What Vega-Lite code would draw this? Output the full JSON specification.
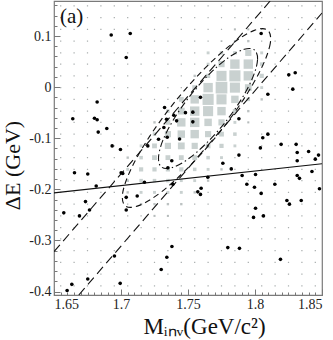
{
"$schema": "https://vega.github.io/schema/vega-lite/v6.json",
"width": 268, "height": 294,
"autosize": {"type": "none"},
"padding": {"left": 54, "top": 1, "right": 11, "bottom": 45},
"background": "white",
"config": {
  "view": {"stroke": "#7a7a7a", "strokeWidth": 1.2},
  "font": "'Liberation Serif', 'Times New Roman', Times, serif",
  "axis": {"labelFont": "'Liberation Serif', 'Times New Roman', Times, serif", "titleFont": "'Liberation Serif', 'Times New Roman', Times, serif", "labelFontSize": 14, "labelColor": "#222", "titleColor": "#111", "titleFontWeight": "normal", "grid": false, "domain": false, "tickColor": "#777"}
},
"datasets": {
"grid": [
{"m":1.655,"d":-0.389,"n":0},{"m":1.655,"d":-0.366,"n":0},{"m":1.655,"d":-0.343,"n":0},{"m":1.655,"d":-0.32,"n":0},{"m":1.655,"d":-0.297,"n":0},{"m":1.655,"d":-0.275,"n":0},{"m":1.655,"d":-0.252,"n":0},{"m":1.655,"d":-0.229,"n":0},{"m":1.655,"d":-0.206,"n":0},{"m":1.655,"d":-0.183,"n":0},{"m":1.655,"d":-0.161,"n":0},{"m":1.655,"d":-0.138,"n":0},{"m":1.655,"d":-0.115,"n":0},{"m":1.655,"d":-0.092,"n":0},{"m":1.655,"d":-0.069,"n":0},{"m":1.655,"d":-0.047,"n":0},{"m":1.655,"d":-0.024,"n":0},{"m":1.655,"d":-0.001,"n":0},{"m":1.655,"d":0.022,"n":0},{"m":1.655,"d":0.045,"n":0},{"m":1.655,"d":0.067,"n":0},{"m":1.655,"d":0.09,"n":0},{"m":1.655,"d":0.113,"n":0},{"m":1.655,"d":0.136,"n":0},{"m":1.655,"d":0.159,"n":0},
{"m":1.665,"d":-0.389,"n":0},{"m":1.665,"d":-0.366,"n":0},{"m":1.665,"d":-0.343,"n":0},{"m":1.665,"d":-0.32,"n":0},{"m":1.665,"d":-0.297,"n":0},{"m":1.665,"d":-0.275,"n":0},{"m":1.665,"d":-0.252,"n":0},{"m":1.665,"d":-0.229,"n":0},{"m":1.665,"d":-0.206,"n":0},{"m":1.665,"d":-0.183,"n":0},{"m":1.665,"d":-0.161,"n":0},{"m":1.665,"d":-0.138,"n":0},{"m":1.665,"d":-0.115,"n":0},{"m":1.665,"d":-0.092,"n":0},{"m":1.665,"d":-0.069,"n":0},{"m":1.665,"d":-0.047,"n":0},{"m":1.665,"d":-0.024,"n":0},{"m":1.665,"d":-0.001,"n":0},{"m":1.665,"d":0.022,"n":0},{"m":1.665,"d":0.045,"n":0},{"m":1.665,"d":0.067,"n":0},{"m":1.665,"d":0.09,"n":0},{"m":1.665,"d":0.113,"n":0},{"m":1.665,"d":0.136,"n":0},{"m":1.665,"d":0.159,"n":0},
{"m":1.675,"d":-0.389,"n":0},{"m":1.675,"d":-0.366,"n":0},{"m":1.675,"d":-0.343,"n":0},{"m":1.675,"d":-0.32,"n":0},{"m":1.675,"d":-0.297,"n":0},{"m":1.675,"d":-0.275,"n":0},{"m":1.675,"d":-0.252,"n":0},{"m":1.675,"d":-0.229,"n":0},{"m":1.675,"d":-0.206,"n":0},{"m":1.675,"d":-0.183,"n":0},{"m":1.675,"d":-0.161,"n":0},{"m":1.675,"d":-0.138,"n":0},{"m":1.675,"d":-0.115,"n":0},{"m":1.675,"d":-0.092,"n":0},{"m":1.675,"d":-0.069,"n":0},{"m":1.675,"d":-0.047,"n":0},{"m":1.675,"d":-0.024,"n":0},{"m":1.675,"d":-0.001,"n":0},{"m":1.675,"d":0.022,"n":0},{"m":1.675,"d":0.045,"n":0},{"m":1.675,"d":0.067,"n":0},{"m":1.675,"d":0.09,"n":0},{"m":1.675,"d":0.113,"n":0},{"m":1.675,"d":0.136,"n":0},{"m":1.675,"d":0.159,"n":0},
{"m":1.685,"d":-0.389,"n":0},{"m":1.685,"d":-0.366,"n":0},{"m":1.685,"d":-0.343,"n":0},{"m":1.685,"d":-0.32,"n":0},{"m":1.685,"d":-0.297,"n":0},{"m":1.685,"d":-0.275,"n":0},{"m":1.685,"d":-0.252,"n":0},{"m":1.685,"d":-0.229,"n":0},{"m":1.685,"d":-0.206,"n":0},{"m":1.685,"d":-0.183,"n":0},{"m":1.685,"d":-0.161,"n":0},{"m":1.685,"d":-0.138,"n":0},{"m":1.685,"d":-0.115,"n":0},{"m":1.685,"d":-0.092,"n":0},{"m":1.685,"d":-0.069,"n":0},{"m":1.685,"d":-0.047,"n":0},{"m":1.685,"d":-0.024,"n":0},{"m":1.685,"d":-0.001,"n":0},{"m":1.685,"d":0.022,"n":0},{"m":1.685,"d":0.045,"n":0},{"m":1.685,"d":0.067,"n":0},{"m":1.685,"d":0.09,"n":0},{"m":1.685,"d":0.113,"n":0},{"m":1.685,"d":0.136,"n":0},{"m":1.685,"d":0.159,"n":0},
{"m":1.695,"d":-0.389,"n":0},{"m":1.695,"d":-0.366,"n":0},{"m":1.695,"d":-0.343,"n":0},{"m":1.695,"d":-0.32,"n":0},{"m":1.695,"d":-0.297,"n":0},{"m":1.695,"d":-0.275,"n":0},{"m":1.695,"d":-0.252,"n":0},{"m":1.695,"d":-0.229,"n":0},{"m":1.695,"d":-0.206,"n":0},{"m":1.695,"d":-0.183,"n":0},{"m":1.695,"d":-0.161,"n":0},{"m":1.695,"d":-0.138,"n":0},{"m":1.695,"d":-0.115,"n":0},{"m":1.695,"d":-0.092,"n":0},{"m":1.695,"d":-0.069,"n":0},{"m":1.695,"d":-0.047,"n":0},{"m":1.695,"d":-0.024,"n":0},{"m":1.695,"d":-0.001,"n":0},{"m":1.695,"d":0.022,"n":0},{"m":1.695,"d":0.045,"n":0},{"m":1.695,"d":0.067,"n":0},{"m":1.695,"d":0.09,"n":0},{"m":1.695,"d":0.113,"n":0},{"m":1.695,"d":0.136,"n":0},{"m":1.695,"d":0.159,"n":0},
{"m":1.705,"d":-0.389,"n":0},{"m":1.705,"d":-0.366,"n":0},{"m":1.705,"d":-0.343,"n":0},{"m":1.705,"d":-0.32,"n":0},{"m":1.705,"d":-0.297,"n":0},{"m":1.705,"d":-0.275,"n":0},{"m":1.705,"d":-0.252,"n":0},{"m":1.705,"d":-0.229,"n":0},{"m":1.705,"d":-0.206,"n":3},{"m":1.705,"d":-0.183,"n":4},{"m":1.705,"d":-0.161,"n":5},{"m":1.705,"d":-0.138,"n":3},{"m":1.705,"d":-0.115,"n":0},{"m":1.705,"d":-0.092,"n":0},{"m":1.705,"d":-0.069,"n":0},{"m":1.705,"d":-0.047,"n":0},{"m":1.705,"d":-0.024,"n":0},{"m":1.705,"d":-0.001,"n":0},{"m":1.705,"d":0.022,"n":0},{"m":1.705,"d":0.045,"n":0},{"m":1.705,"d":0.067,"n":0},{"m":1.705,"d":0.09,"n":0},{"m":1.705,"d":0.113,"n":0},{"m":1.705,"d":0.136,"n":0},{"m":1.705,"d":0.159,"n":0},
{"m":1.715,"d":-0.389,"n":0},{"m":1.715,"d":-0.366,"n":0},{"m":1.715,"d":-0.343,"n":0},{"m":1.715,"d":-0.32,"n":0},{"m":1.715,"d":-0.297,"n":0},{"m":1.715,"d":-0.275,"n":0},{"m":1.715,"d":-0.252,"n":0},{"m":1.715,"d":-0.229,"n":3},{"m":1.715,"d":-0.206,"n":5},{"m":1.715,"d":-0.183,"n":8},{"m":1.715,"d":-0.161,"n":12},{"m":1.715,"d":-0.138,"n":8},{"m":1.715,"d":-0.115,"n":5},{"m":1.715,"d":-0.092,"n":0},{"m":1.715,"d":-0.069,"n":0},{"m":1.715,"d":-0.047,"n":0},{"m":1.715,"d":-0.024,"n":0},{"m":1.715,"d":-0.001,"n":0},{"m":1.715,"d":0.022,"n":0},{"m":1.715,"d":0.045,"n":0},{"m":1.715,"d":0.067,"n":0},{"m":1.715,"d":0.09,"n":0},{"m":1.715,"d":0.113,"n":0},{"m":1.715,"d":0.136,"n":0},{"m":1.715,"d":0.159,"n":0},
{"m":1.725,"d":-0.389,"n":0},{"m":1.725,"d":-0.366,"n":0},{"m":1.725,"d":-0.343,"n":0},{"m":1.725,"d":-0.32,"n":0},{"m":1.725,"d":-0.297,"n":0},{"m":1.725,"d":-0.275,"n":0},{"m":1.725,"d":-0.252,"n":2},{"m":1.725,"d":-0.229,"n":3},{"m":1.725,"d":-0.206,"n":5},{"m":1.725,"d":-0.183,"n":8},{"m":1.725,"d":-0.161,"n":12},{"m":1.725,"d":-0.138,"n":16},{"m":1.725,"d":-0.115,"n":16},{"m":1.725,"d":-0.092,"n":8},{"m":1.725,"d":-0.069,"n":3},{"m":1.725,"d":-0.047,"n":0},{"m":1.725,"d":-0.024,"n":0},{"m":1.725,"d":-0.001,"n":0},{"m":1.725,"d":0.022,"n":0},{"m":1.725,"d":0.045,"n":0},{"m":1.725,"d":0.067,"n":0},{"m":1.725,"d":0.09,"n":0},{"m":1.725,"d":0.113,"n":0},{"m":1.725,"d":0.136,"n":0},{"m":1.725,"d":0.159,"n":0},
{"m":1.735,"d":-0.389,"n":0},{"m":1.735,"d":-0.366,"n":0},{"m":1.735,"d":-0.343,"n":0},{"m":1.735,"d":-0.32,"n":0},{"m":1.735,"d":-0.297,"n":0},{"m":1.735,"d":-0.275,"n":0},{"m":1.735,"d":-0.252,"n":2},{"m":1.735,"d":-0.229,"n":3},{"m":1.735,"d":-0.206,"n":5},{"m":1.735,"d":-0.183,"n":8},{"m":1.735,"d":-0.161,"n":12},{"m":1.735,"d":-0.138,"n":16},{"m":1.735,"d":-0.115,"n":27},{"m":1.735,"d":-0.092,"n":27},{"m":1.735,"d":-0.069,"n":16},{"m":1.735,"d":-0.047,"n":8},{"m":1.735,"d":-0.024,"n":0},{"m":1.735,"d":-0.001,"n":0},{"m":1.735,"d":0.022,"n":0},{"m":1.735,"d":0.045,"n":0},{"m":1.735,"d":0.067,"n":0},{"m":1.735,"d":0.09,"n":0},{"m":1.735,"d":0.113,"n":0},{"m":1.735,"d":0.136,"n":0},{"m":1.735,"d":0.159,"n":0},
{"m":1.745,"d":-0.389,"n":0},{"m":1.745,"d":-0.366,"n":0},{"m":1.745,"d":-0.343,"n":0},{"m":1.745,"d":-0.32,"n":0},{"m":1.745,"d":-0.297,"n":0},{"m":1.745,"d":-0.275,"n":0},{"m":1.745,"d":-0.252,"n":0},{"m":1.745,"d":-0.229,"n":3},{"m":1.745,"d":-0.206,"n":5},{"m":1.745,"d":-0.183,"n":5},{"m":1.745,"d":-0.161,"n":12},{"m":1.745,"d":-0.138,"n":16},{"m":1.745,"d":-0.115,"n":33},{"m":1.745,"d":-0.092,"n":40},{"m":1.745,"d":-0.069,"n":51},{"m":1.745,"d":-0.047,"n":33},{"m":1.745,"d":-0.024,"n":16},{"m":1.745,"d":-0.001,"n":0},{"m":1.745,"d":0.022,"n":0},{"m":1.745,"d":0.045,"n":0},{"m":1.745,"d":0.067,"n":0},{"m":1.745,"d":0.09,"n":0},{"m":1.745,"d":0.113,"n":0},{"m":1.745,"d":0.136,"n":0},{"m":1.745,"d":0.159,"n":0},
{"m":1.755,"d":-0.389,"n":0},{"m":1.755,"d":-0.366,"n":0},{"m":1.755,"d":-0.343,"n":0},{"m":1.755,"d":-0.32,"n":0},{"m":1.755,"d":-0.297,"n":0},{"m":1.755,"d":-0.275,"n":0},{"m":1.755,"d":-0.252,"n":0},{"m":1.755,"d":-0.229,"n":0},{"m":1.755,"d":-0.206,"n":3},{"m":1.755,"d":-0.183,"n":5},{"m":1.755,"d":-0.161,"n":8},{"m":1.755,"d":-0.138,"n":16},{"m":1.755,"d":-0.115,"n":27},{"m":1.755,"d":-0.092,"n":51},{"m":1.755,"d":-0.069,"n":64},{"m":1.755,"d":-0.047,"n":64},{"m":1.755,"d":-0.024,"n":51},{"m":1.755,"d":-0.001,"n":16},{"m":1.755,"d":0.022,"n":3},{"m":1.755,"d":0.045,"n":0},{"m":1.755,"d":0.067,"n":0},{"m":1.755,"d":0.09,"n":0},{"m":1.755,"d":0.113,"n":0},{"m":1.755,"d":0.136,"n":0},{"m":1.755,"d":0.159,"n":0},
{"m":1.765,"d":-0.389,"n":0},{"m":1.765,"d":-0.366,"n":0},{"m":1.765,"d":-0.343,"n":0},{"m":1.765,"d":-0.32,"n":0},{"m":1.765,"d":-0.297,"n":0},{"m":1.765,"d":-0.275,"n":0},{"m":1.765,"d":-0.252,"n":0},{"m":1.765,"d":-0.229,"n":0},{"m":1.765,"d":-0.206,"n":0},{"m":1.765,"d":-0.183,"n":3},{"m":1.765,"d":-0.161,"n":5},{"m":1.765,"d":-0.138,"n":8},{"m":1.765,"d":-0.115,"n":16},{"m":1.765,"d":-0.092,"n":27},{"m":1.765,"d":-0.069,"n":40},{"m":1.765,"d":-0.047,"n":74},{"m":1.765,"d":-0.024,"n":90},{"m":1.765,"d":-0.001,"n":64},{"m":1.765,"d":0.022,"n":12},{"m":1.765,"d":0.045,"n":5},{"m":1.765,"d":0.067,"n":5},{"m":1.765,"d":0.09,"n":0},{"m":1.765,"d":0.113,"n":0},{"m":1.765,"d":0.136,"n":0},{"m":1.765,"d":0.159,"n":0},
{"m":1.775,"d":-0.389,"n":0},{"m":1.775,"d":-0.366,"n":0},{"m":1.775,"d":-0.343,"n":0},{"m":1.775,"d":-0.32,"n":0},{"m":1.775,"d":-0.297,"n":0},{"m":1.775,"d":-0.275,"n":0},{"m":1.775,"d":-0.252,"n":0},{"m":1.775,"d":-0.229,"n":0},{"m":1.775,"d":-0.206,"n":0},{"m":1.775,"d":-0.183,"n":0},{"m":1.775,"d":-0.161,"n":3},{"m":1.775,"d":-0.138,"n":5},{"m":1.775,"d":-0.115,"n":12},{"m":1.775,"d":-0.092,"n":16},{"m":1.775,"d":-0.069,"n":27},{"m":1.775,"d":-0.047,"n":51},{"m":1.775,"d":-0.024,"n":74},{"m":1.775,"d":-0.001,"n":100},{"m":1.775,"d":0.022,"n":74},{"m":1.775,"d":0.045,"n":27},{"m":1.775,"d":0.067,"n":8},{"m":1.775,"d":0.09,"n":1},{"m":1.775,"d":0.113,"n":0},{"m":1.775,"d":0.136,"n":0},{"m":1.775,"d":0.159,"n":0},
{"m":1.785,"d":-0.389,"n":0},{"m":1.785,"d":-0.366,"n":0},{"m":1.785,"d":-0.343,"n":0},{"m":1.785,"d":-0.32,"n":0},{"m":1.785,"d":-0.297,"n":0},{"m":1.785,"d":-0.275,"n":0},{"m":1.785,"d":-0.252,"n":0},{"m":1.785,"d":-0.229,"n":0},{"m":1.785,"d":-0.206,"n":0},{"m":1.785,"d":-0.183,"n":0},{"m":1.785,"d":-0.161,"n":0},{"m":1.785,"d":-0.138,"n":0},{"m":1.785,"d":-0.115,"n":5},{"m":1.785,"d":-0.092,"n":8},{"m":1.785,"d":-0.069,"n":5},{"m":1.785,"d":-0.047,"n":12},{"m":1.785,"d":-0.024,"n":40},{"m":1.785,"d":-0.001,"n":74},{"m":1.785,"d":0.022,"n":90},{"m":1.785,"d":0.045,"n":64},{"m":1.785,"d":0.067,"n":8},{"m":1.785,"d":0.09,"n":2},{"m":1.785,"d":0.113,"n":2},{"m":1.785,"d":0.136,"n":0},{"m":1.785,"d":0.159,"n":0},
{"m":1.795,"d":-0.389,"n":0},{"m":1.795,"d":-0.366,"n":0},{"m":1.795,"d":-0.343,"n":0},{"m":1.795,"d":-0.32,"n":0},{"m":1.795,"d":-0.297,"n":0},{"m":1.795,"d":-0.275,"n":0},{"m":1.795,"d":-0.252,"n":0},{"m":1.795,"d":-0.229,"n":0},{"m":1.795,"d":-0.206,"n":0},{"m":1.795,"d":-0.183,"n":0},{"m":1.795,"d":-0.161,"n":0},{"m":1.795,"d":-0.138,"n":0},{"m":1.795,"d":-0.115,"n":0},{"m":1.795,"d":-0.092,"n":0},{"m":1.795,"d":-0.069,"n":2},{"m":1.795,"d":-0.047,"n":3},{"m":1.795,"d":-0.024,"n":8},{"m":1.795,"d":-0.001,"n":33},{"m":1.795,"d":0.022,"n":64},{"m":1.795,"d":0.045,"n":64},{"m":1.795,"d":0.067,"n":27},{"m":1.795,"d":0.09,"n":3},{"m":1.795,"d":0.113,"n":2},{"m":1.795,"d":0.136,"n":0},{"m":1.795,"d":0.159,"n":0},
{"m":1.805,"d":-0.389,"n":0},{"m":1.805,"d":-0.366,"n":0},{"m":1.805,"d":-0.343,"n":0},{"m":1.805,"d":-0.32,"n":0},{"m":1.805,"d":-0.297,"n":0},{"m":1.805,"d":-0.275,"n":0},{"m":1.805,"d":-0.252,"n":0},{"m":1.805,"d":-0.229,"n":0},{"m":1.805,"d":-0.206,"n":0},{"m":1.805,"d":-0.183,"n":0},{"m":1.805,"d":-0.161,"n":0},{"m":1.805,"d":-0.138,"n":0},{"m":1.805,"d":-0.115,"n":0},{"m":1.805,"d":-0.092,"n":0},{"m":1.805,"d":-0.069,"n":0},{"m":1.805,"d":-0.047,"n":0},{"m":1.805,"d":-0.024,"n":3},{"m":1.805,"d":-0.001,"n":5},{"m":1.805,"d":0.022,"n":12},{"m":1.805,"d":0.045,"n":8},{"m":1.805,"d":0.067,"n":5},{"m":1.805,"d":0.09,"n":0},{"m":1.805,"d":0.113,"n":0},{"m":1.805,"d":0.136,"n":0},{"m":1.805,"d":0.159,"n":0},
{"m":1.815,"d":-0.389,"n":0},{"m":1.815,"d":-0.366,"n":0},{"m":1.815,"d":-0.343,"n":0},{"m":1.815,"d":-0.32,"n":0},{"m":1.815,"d":-0.297,"n":0},{"m":1.815,"d":-0.275,"n":0},{"m":1.815,"d":-0.252,"n":0},{"m":1.815,"d":-0.229,"n":0},{"m":1.815,"d":-0.206,"n":0},{"m":1.815,"d":-0.183,"n":0},{"m":1.815,"d":-0.161,"n":0},{"m":1.815,"d":-0.138,"n":0},{"m":1.815,"d":-0.115,"n":0},{"m":1.815,"d":-0.092,"n":0},{"m":1.815,"d":-0.069,"n":0},{"m":1.815,"d":-0.047,"n":0},{"m":1.815,"d":-0.024,"n":0},{"m":1.815,"d":-0.001,"n":0},{"m":1.815,"d":0.022,"n":0},{"m":1.815,"d":0.045,"n":0},{"m":1.815,"d":0.067,"n":0},{"m":1.815,"d":0.09,"n":0},{"m":1.815,"d":0.113,"n":0},{"m":1.815,"d":0.136,"n":0},{"m":1.815,"d":0.159,"n":0},
{"m":1.825,"d":-0.389,"n":0},{"m":1.825,"d":-0.366,"n":0},{"m":1.825,"d":-0.343,"n":0},{"m":1.825,"d":-0.32,"n":0},{"m":1.825,"d":-0.297,"n":0},{"m":1.825,"d":-0.275,"n":0},{"m":1.825,"d":-0.252,"n":0},{"m":1.825,"d":-0.229,"n":0},{"m":1.825,"d":-0.206,"n":0},{"m":1.825,"d":-0.183,"n":0},{"m":1.825,"d":-0.161,"n":0},{"m":1.825,"d":-0.138,"n":0},{"m":1.825,"d":-0.115,"n":0},{"m":1.825,"d":-0.092,"n":0},{"m":1.825,"d":-0.069,"n":0},{"m":1.825,"d":-0.047,"n":0},{"m":1.825,"d":-0.024,"n":0},{"m":1.825,"d":-0.001,"n":0},{"m":1.825,"d":0.022,"n":0},{"m":1.825,"d":0.045,"n":0},{"m":1.825,"d":0.067,"n":0},{"m":1.825,"d":0.09,"n":0},{"m":1.825,"d":0.113,"n":0},{"m":1.825,"d":0.136,"n":0},{"m":1.825,"d":0.159,"n":0},
{"m":1.835,"d":-0.389,"n":0},{"m":1.835,"d":-0.366,"n":0},{"m":1.835,"d":-0.343,"n":0},{"m":1.835,"d":-0.32,"n":0},{"m":1.835,"d":-0.297,"n":0},{"m":1.835,"d":-0.275,"n":0},{"m":1.835,"d":-0.252,"n":0},{"m":1.835,"d":-0.229,"n":0},{"m":1.835,"d":-0.206,"n":0},{"m":1.835,"d":-0.183,"n":0},{"m":1.835,"d":-0.161,"n":0},{"m":1.835,"d":-0.138,"n":0},{"m":1.835,"d":-0.115,"n":0},{"m":1.835,"d":-0.092,"n":0},{"m":1.835,"d":-0.069,"n":0},{"m":1.835,"d":-0.047,"n":0},{"m":1.835,"d":-0.024,"n":0},{"m":1.835,"d":-0.001,"n":0},{"m":1.835,"d":0.022,"n":0},{"m":1.835,"d":0.045,"n":0},{"m":1.835,"d":0.067,"n":0},{"m":1.835,"d":0.09,"n":0},{"m":1.835,"d":0.113,"n":0},{"m":1.835,"d":0.136,"n":0},{"m":1.835,"d":0.159,"n":0},
{"m":1.845,"d":-0.389,"n":0},{"m":1.845,"d":-0.366,"n":0},{"m":1.845,"d":-0.343,"n":0},{"m":1.845,"d":-0.32,"n":0},{"m":1.845,"d":-0.297,"n":0},{"m":1.845,"d":-0.275,"n":0},{"m":1.845,"d":-0.252,"n":0},{"m":1.845,"d":-0.229,"n":0},{"m":1.845,"d":-0.206,"n":0},{"m":1.845,"d":-0.183,"n":0},{"m":1.845,"d":-0.161,"n":0},{"m":1.845,"d":-0.138,"n":0},{"m":1.845,"d":-0.115,"n":0},{"m":1.845,"d":-0.092,"n":0},{"m":1.845,"d":-0.069,"n":0},{"m":1.845,"d":-0.047,"n":0},{"m":1.845,"d":-0.024,"n":0},{"m":1.845,"d":-0.001,"n":0},{"m":1.845,"d":0.022,"n":0},{"m":1.845,"d":0.045,"n":0},{"m":1.845,"d":0.067,"n":0},{"m":1.845,"d":0.09,"n":0},{"m":1.845,"d":0.113,"n":0},{"m":1.845,"d":0.136,"n":0},{"m":1.845,"d":0.159,"n":0}
],
"events": [
{"m":1.6927,"d":0.102},{"m":1.7069,"d":0.105},{"m":1.7039,"d":0.058},{"m":1.8046,"d":0.105},{"m":1.664,"d":-0.062},{"m":1.6822,"d":-0.029},{"m":1.6802,"d":-0.061},{"m":1.6822,"d":-0.064},{"m":1.6894,"d":-0.081},{"m":1.683,"d":-0.088},{"m":1.6934,"d":-0.115},{"m":1.6996,"d":-0.122},{"m":1.72,"d":-0.115},{"m":1.728,"d":-0.102},{"m":1.7345,"d":-0.098},{"m":1.732,"d":-0.079},{"m":1.734,"d":-0.063},{"m":1.7325,"d":-0.04},{"m":1.7394,"d":-0.055},{"m":1.7415,"d":-0.066},{"m":1.7481,"d":-0.05},{"m":1.7536,"d":-0.049},{"m":1.7536,"d":-0.068},{"m":1.7593,"d":-0.02},{"m":1.7437,"d":-0.1016},{"m":1.8096,"d":-0.014},{"m":1.788,"d":-0.062},{"m":1.8252,"d":0.024},{"m":1.83,"d":0.028},{"m":1.8282,"d":-0.004},{"m":1.8096,"d":-0.092},{"m":1.8058,"d":-0.099},{"m":1.804,"d":-0.119},{"m":1.8195,"d":-0.112},{"m":1.8307,"d":-0.112},{"m":1.8315,"d":-0.128},{"m":1.84,"d":-0.126},{"m":1.8474,"d":-0.133},{"m":1.845,"d":-0.141},{"m":1.8315,"d":-0.144},{"m":1.788,"d":-0.133},{"m":1.776,"d":-0.149},{"m":1.7823,"d":-0.16},{"m":1.7904,"d":-0.173},{"m":1.8004,"d":-0.171},{"m":1.8315,"d":-0.173},{"m":1.8332,"d":-0.1785},{"m":1.8425,"d":-0.165},{"m":1.7939,"d":-0.19},{"m":1.7996,"d":-0.196},{"m":1.8046,"d":-0.208},{"m":1.8148,"d":-0.19},{"m":1.8481,"d":-0.199},{"m":1.8238,"d":-0.222},{"m":1.8257,"d":-0.229},{"m":1.8345,"d":-0.222},{"m":1.8004,"d":-0.237},{"m":1.7989,"d":-0.255},{"m":1.8063,"d":-0.252},{"m":1.7884,"d":-0.3155},{"m":1.7797,"d":-0.314},{"m":1.819,"d":-0.337},{"m":1.738,"d":-0.312},{"m":1.7342,"d":-0.333},{"m":1.73,"d":-0.357},{"m":1.7648,"d":-0.1765},{"m":1.7573,"d":-0.205},{"m":1.7598,"d":-0.198},{"m":1.7593,"d":-0.21},{"m":1.7387,"d":-0.19},{"m":1.6653,"d":-0.1675},{"m":1.6752,"d":-0.17},{"m":1.6815,"d":-0.1935},{"m":1.6735,"d":-0.224},{"m":1.6765,"d":-0.2405},{"m":1.6573,"d":-0.246},{"m":1.669,"d":-0.252},{"m":1.6951,"d":-0.3305},{"m":1.6752,"d":-0.3755},{"m":1.6633,"d":-0.386},{"m":1.6598,"d":-0.398},{"m":1.6994,"d":-0.384},{"m":1.7039,"d":-0.2405},{"m":1.7039,"d":-0.2157},{"m":1.7121,"d":-0.213},{"m":1.7001,"d":-0.1675},{"m":1.7013,"d":-0.169},{"m":1.7175,"d":-0.1863},{"m":1.7379,"d":-0.144},{"m":1.735,"d":-0.158}
],
"bands": [
{"g":"A","m":1.65,"d":-0.322},{"g":"A","m":1.8113,"d":0.1685},
{"g":"B","m":1.6685,"d":-0.4068},{"g":"B","m":1.85,"d":0.145}
],
"solid": [{"m":1.65,"d":-0.207},{"m":1.85,"d":-0.15}],
"outer": [
{"o":0,"m":1.8095,"d":0.1114},{"o":1,"m":1.8114,"d":0.0855},{"o":2,"m":1.8049,"d":0.0376},{"o":3,"m":1.7911,"d":-0.0254},{"o":4,"m":1.772,"d":-0.0937},{"o":5,"m":1.7504,"d":-0.1569},{"o":6,"m":1.7299,"d":-0.2055},{"o":7,"m":1.7132,"d":-0.2319},{"o":8,"m":1.7032,"d":-0.2323},{"o":9,"m":1.7013,"d":-0.2065},{"o":10,"m":1.7078,"d":-0.1585},{"o":11,"m":1.7216,"d":-0.0955},{"o":12,"m":1.7407,"d":-0.0272},{"o":13,"m":1.7623,"d":0.036},{"o":14,"m":1.7828,"d":0.0845},{"o":15,"m":1.7995,"d":0.111}
],
"inner": [
{"o":0,"m":1.7996,"d":0.0726},{"o":1,"m":1.8019,"d":0.0536},{"o":2,"m":1.7985,"d":0.02},{"o":3,"m":1.7901,"d":-0.0227},{"o":4,"m":1.7778,"d":-0.0687},{"o":5,"m":1.7635,"d":-0.1104},{"o":6,"m":1.7496,"d":-0.1417},{"o":7,"m":1.7378,"d":-0.1577},{"o":8,"m":1.7302,"d":-0.1564},{"o":9,"m":1.728,"d":-0.1374},{"o":10,"m":1.7313,"d":-0.1037},{"o":11,"m":1.7398,"d":-0.0611},{"o":12,"m":1.7521,"d":-0.0151},{"o":13,"m":1.7663,"d":0.0266},{"o":14,"m":1.7803,"d":0.0579},{"o":15,"m":1.792,"d":0.074}
],
"label": [{"m":1.6545,"d":0.126,"t":"(a)"}]
},
"layer": [
{
 "data": {"name": "grid"},
 "mark": {"type": "square", "opacity": 1},
 "encoding": {
  "x": {"field": "m", "type": "quantitative", "scale": {"domain": [1.65, 1.85], "nice": false, "zero": false},
        "axis": {"orient": "bottom", "values": [1.65,1.655,1.66,1.665,1.67,1.675,1.68,1.685,1.69,1.695,1.7,1.705,1.71,1.715,1.72,1.725,1.73,1.735,1.74,1.745,1.75,1.755,1.76,1.765,1.77,1.775,1.78,1.785,1.79,1.795,1.8,1.805,1.81,1.815,1.82,1.825,1.83,1.835,1.84,1.845,1.85], "labels": false, "tickSize": -3, "title": null}},
  "y": {"field": "d", "type": "quantitative", "scale": {"domain": [-0.4068, 0.1685], "nice": false, "zero": false},
        "axis": {"orient": "left", "values": [-0.4,-0.38,-0.36,-0.34,-0.32,-0.3,-0.28,-0.26,-0.24,-0.22,-0.2,-0.18,-0.16,-0.14,-0.12,-0.1,-0.08,-0.06,-0.04,-0.02,0,0.02,0.04,0.06,0.08,0.1,0.12,0.14,0.16], "labels": false, "tickSize": -3, "title": null}},
  "size": {"field": "n", "type": "quantitative", "scale": {"type": "linear", "domain": [0, 100], "range": [1.5, 137], "zero": false}, "legend": null},
  "color": {"field": "n", "type": "quantitative", "scale": {"type": "linear", "domain": [0, 5], "range": ["#a8adad", "#c9d1d0"], "clamp": true}, "legend": null}
 }
},
{
 "data": {"name": "bands"},
 "mark": {"type": "line", "color": "#111", "strokeWidth": 1.1, "strokeDash": [9, 5], "clip": true},
 "encoding": {
  "x": {"field": "m", "type": "quantitative", "axis": null},
  "y": {"field": "d", "type": "quantitative", "axis": null},
  "detail": {"field": "g"}
 }
},
{
 "data": {"name": "solid"},
 "mark": {"type": "line", "color": "#111", "strokeWidth": 1.2, "clip": true},
 "encoding": {
  "x": {"field": "m", "type": "quantitative", "axis": null},
  "y": {"field": "d", "type": "quantitative", "axis": null}
 }
},
{
 "data": {"name": "outer"},
 "mark": {"type": "line", "color": "#111", "strokeWidth": 1.1, "strokeDash": [6, 4], "interpolate": "cardinal-closed", "clip": true},
 "encoding": {
  "x": {"field": "m", "type": "quantitative", "axis": null},
  "y": {"field": "d", "type": "quantitative", "axis": null},
  "order": {"field": "o"}
 }
},
{
 "data": {"name": "inner"},
 "mark": {"type": "line", "color": "#111", "strokeWidth": 1.1, "strokeDash": [7, 3, 1.5, 3], "interpolate": "cardinal-closed", "clip": true},
 "encoding": {
  "x": {"field": "m", "type": "quantitative", "axis": null},
  "y": {"field": "d", "type": "quantitative", "axis": null},
  "order": {"field": "o"}
 }
},
{
 "data": {"name": "events"},
 "mark": {"type": "circle", "color": "#000", "opacity": 1, "size": 13},
 "encoding": {
  "x": {"field": "m", "type": "quantitative",
        "axis": {"orient": "bottom", "values": [1.65, 1.7, 1.75, 1.8, 1.85], "tickSize": -6, "labelExpr": "format(datum.value, '~g')", "labelPadding": 8, "title": "Mᵢₙᵥ(GeV/c²)", "titleFontSize": 23, "titlePadding": 4, "titleX": 150}},
  "y": {"field": "d", "type": "quantitative",
        "axis": {"orient": "left", "values": [-0.4, -0.3, -0.2, -0.1, 0, 0.1], "tickSize": -6, "labelExpr": "replace(format(datum.value, '~g'), '−', '-')", "labelPadding": 9, "title": "ΔE (GeV)", "titleFontSize": 22, "titlePadding": 4, "titleY": 164}}
 }
},
{
 "data": {"name": "label"},
 "mark": {"type": "text", "align": "left", "baseline": "alphabetic", "fontSize": 21, "font": "'Liberation Serif', 'Times New Roman', Times, serif", "color": "#111"},
 "encoding": {
  "x": {"field": "m", "type": "quantitative", "axis": null},
  "y": {"field": "d", "type": "quantitative", "axis": null},
  "text": {"field": "t"}
 }
}
],
"resolve": {"axis": {"x": "independent", "y": "independent"}}
}
